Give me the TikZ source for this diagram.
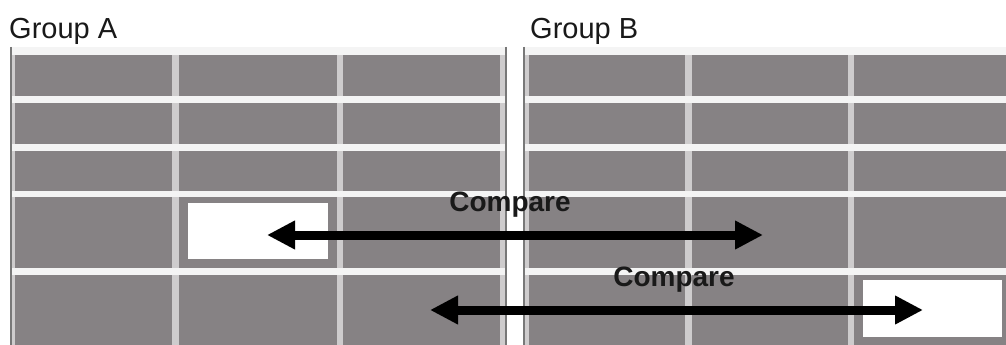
\documentclass[tikz,border=0pt]{standalone}
\usepackage{fontspec}
\setmainfont{Liberation Sans}
\usetikzlibrary{arrows.meta}
\definecolor{cellgray}{RGB}{134,130,132}
\definecolor{vgap}{RGB}{206,204,205}
\definecolor{hgap}{RGB}{244,244,244}
\definecolor{edgegray}{RGB}{120,120,120}
\tikzset{
  cell/.style={fill=cellgray, draw=none},
  hole/.style={fill=white, draw=none},
  vgapstrip/.style={fill=vgap, draw=none},
  hgapstrip/.style={fill=hgap, draw=none},
  edgeline/.style={draw=edgegray, line width=2pt},
  cmparrow/.style={line width=9pt, {Triangle[length=28pt,width=27pt]}-{Triangle[length=28pt,width=27pt]}},
  grouplabel/.style={font=\fontsize{29}{30}\selectfont, anchor=west, inner sep=0pt, text=black!90},
  cmplabel/.style={font=\fontsize{28}{30}\selectfont\bfseries, inner sep=0pt, text=black!90}
}
\begin{document}
\begin{tikzpicture}[x=1pt,y=-1pt]
\useasboundingbox (0,0) rectangle (1006,345);
\fill[white] (0,0) rectangle (1006,345);
% table backgrounds
\fill[vgapstrip] (11,47) rectangle (507,345);
\fill[vgapstrip] (524,47) rectangle (1006,345);
% horizontal gap bands
\foreach \ya/\yb in {47/55, 96/103, 144/151, 191/197, 268/275} {
  \fill[hgapstrip] (11,\ya) rectangle (507,\yb);
  \fill[hgapstrip] (524,\ya) rectangle (1006,\yb);
}
% cells
\foreach \ya/\yb in {55/96, 103/144, 151/191, 197/268, 275/345} {
  \foreach \xa/\xb in {15/172, 179/337, 343/500, 529/685, 692/848, 854/1006} {
    \fill[cell] (\xa,\ya) rectangle (\xb,\yb);
  }
}
% outer dark edges
\draw[edgeline] (11,47) -- (11,345);
\draw[edgeline] (506,47) -- (506,345);
\draw[edgeline] (524,47) -- (524,345);
% white highlighted cells
\fill[hole] (188,203) rectangle (328,259);
\fill[hole] (863,280) rectangle (1002,337);
% labels
\node[grouplabel] (ga) at (9,31) {Group A};
\node[grouplabel] (gb) at (530,31) {Group B};
\node[cmplabel] (c1) at (510,205) {Compare};
\node[cmplabel] (c2) at (674,280) {Compare};
% arrows
\coordinate (a1l) at (267,235);
\coordinate (a1r) at (763,235);
\coordinate (a2l) at (430,310);
\coordinate (a2r) at (923,310);
\draw[cmparrow] (a1l) -- (a1r);
\draw[cmparrow] (a2l) -- (a2r);
\end{tikzpicture}
\end{document}
